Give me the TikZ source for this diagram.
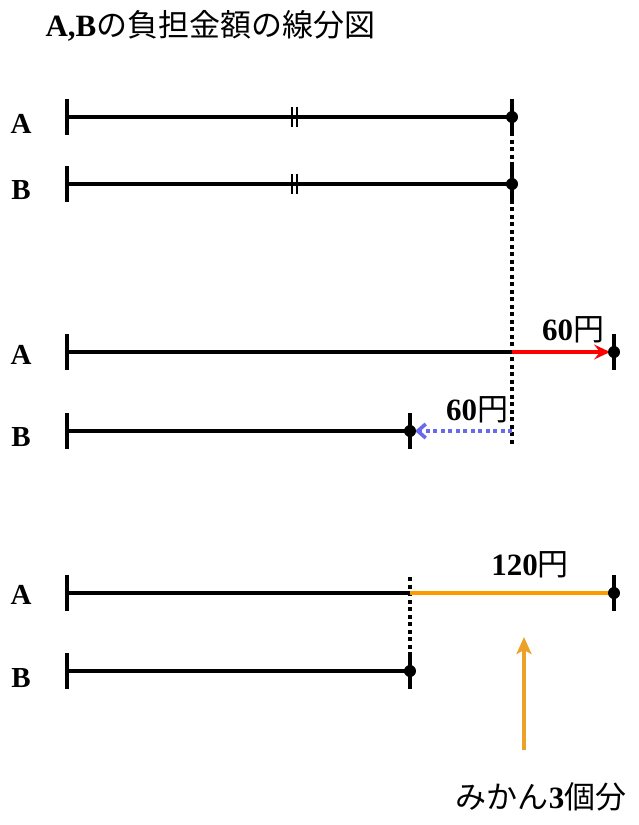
\documentclass[tikz,border=0pt]{standalone}
\usepackage{fontspec}
\setmainfont{Liberation Serif}
\newfontfamily\cjk{Noto Sans CJK JP}
\usetikzlibrary{arrows.meta}
\definecolor{aoten}{RGB}{105,105,235}
\definecolor{daidai}{RGB}{255,153,0}
\definecolor{daiya}{RGB}{236,162,40}

\begin{document}
\begin{tikzpicture}[x=1pt, y=-1pt,
        sen/.style={line width=3.6pt},
        hasi/.style={line width=3.6pt},
        ten/.style={circle, fill, inner sep=0pt, minimum size=12pt},
        tensen/.style={line width=3.6pt, dash pattern=on 4pt off 3.5pt},
        lab/.style={font=\fontsize{29}{31}\selectfont\bfseries},
        kin/.style={font=\fontsize{31}{33}\selectfont}]
        \useasboundingbox (0,0) rectangle (638,825);
        \node[anchor=west, font=\fontsize{31}{34}\selectfont] (title) at (42,26) {\textbf{A,B}{\cjk の負担金額の線分図}};
        \foreach \n/\t/\y in {a1/A/124, b1/B/190, a2/A/355, b2/B/437, a3/A/595, b3/B/678}{
            \node[lab] (l\n) at (21,\y) {\t};
        }
        \coordinate (a2r) at (614,352);
        \coordinate (a3r) at (614,593);
        \coordinate (z1) at (512,445);
        \coordinate (z2) at (410,577);
        \coordinate (ya0) at (524,750);
        \coordinate (ya1) at (524,637);
        \foreach \n/\y/\xe in {a1/117/512, b1/184/512, a2/352/512, b2/431/410, a3/593/410, b3/671/410}{
            \coordinate (\n-s) at (67,\y);
            \coordinate (\n-e) at (\xe,\y);
        }
        \draw[tensen] (a1-e) -- (z1);
        \draw[tensen] (z2) -- (b3-e);
        \draw[line width=3.6pt, red, shorten >=4pt, -{Stealth[length=16pt, width=15pt, inset=6pt]}] (a2-e) -- (a2r);
        \draw[line width=3.6pt, aoten, dash pattern=on 4pt off 3.5pt, shorten >=5pt, -{Straight Barb[length=8pt, width=14pt]}] (a2-e |- b2-e) -- (b2-e);
        \draw[line width=3.6pt, daidai] (a3-e) -- (a3r);
        \draw[line width=4.5pt, daiya, -{Stealth[length=17pt, width=15pt, inset=4pt]}] (ya0) -- (ya1);
        \foreach \n in {a1, b1, a2, b2, a3, b3}{
            \draw[sen] (\n-s) -- (\n-e);
            \draw[hasi] (\n-s) ++(0,-18) -- ++(0,36);
        }
        \foreach \n in {a1, b1}{
            \draw[line width=1.4pt] (\n-s) ++(225,-10) -- ++(0,20) (\n-s) ++(230,-10) -- ++(0,20);
        }
        \foreach \p in {a1-e, b1-e, a2r, b2-e, a3r, b3-e}{
            \draw[hasi] (\p) ++(0,-18) -- ++(0,36);
            \node[ten] (d\p) at (\p) {};
        }
        \node[kin] (k60a) at (573,330) {\textbf{60}{\cjk 円}};
        \node[kin] (k60b) at (477,410) {\textbf{60}{\cjk 円}};
        \node[kin] (k120) at (530,565) {\textbf{120}{\cjk 円}};
        \node[kin] (mikan) at (541,797) {{\cjk みかん}\textbf{3}{\cjk 個分}};
    \end{tikzpicture}
\end{document}
